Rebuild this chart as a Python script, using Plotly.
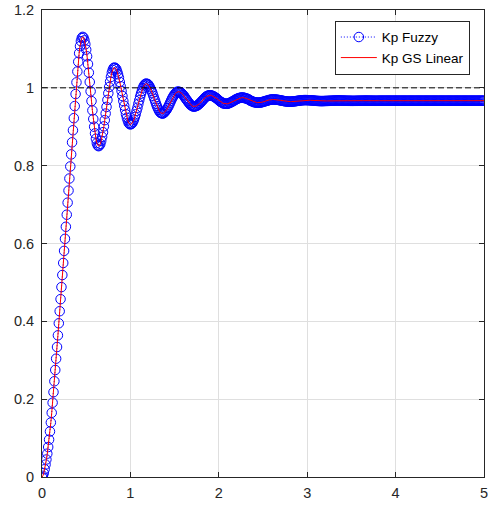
import plotly.graph_objects as go

# ---- data ----
t_step = 0.01
n_samples = 501
time = [round(i * t_step, 2) for i in range(n_samples)]

setpoint = 1.0

kp_fuzzy = [
    0.000, 0.003, 0.010, 0.020, 0.032, 0.045, 0.060, 0.077, 0.096, 0.117,
    0.140, 0.165, 0.191, 0.218, 0.246, 0.275, 0.304, 0.334, 0.364, 0.395,
    0.426, 0.457, 0.488, 0.519, 0.550, 0.581, 0.612, 0.643, 0.674, 0.705,
    0.736, 0.767, 0.798, 0.829, 0.860, 0.891, 0.922, 0.953, 0.984, 1.014,
    1.042, 1.067, 1.089, 1.107, 1.120, 1.128, 1.131, 1.129, 1.122, 1.112,
    1.098, 1.081, 1.061, 1.039, 1.015, 0.991, 0.966, 0.942, 0.920, 0.900,
    0.883, 0.869, 0.858, 0.852, 0.850, 0.852, 0.856, 0.864, 0.874, 0.886,
    0.901, 0.917, 0.934, 0.951, 0.969, 0.986, 1.002, 1.016, 1.028, 1.039,
    1.046, 1.051, 1.052, 1.051, 1.048, 1.042, 1.035, 1.026, 1.015, 1.004,
    0.992, 0.979, 0.966, 0.954, 0.943, 0.932, 0.923, 0.916, 0.910, 0.907,
    0.906, 0.907, 0.909, 0.913, 0.918, 0.925, 0.932, 0.941, 0.949, 0.959,
    0.968, 0.977, 0.985, 0.992, 0.999, 1.004, 1.008, 1.010, 1.011, 1.010,
    1.009, 1.006, 1.002, 0.997, 0.992, 0.986, 0.979, 0.972, 0.966, 0.959,
    0.953, 0.948, 0.943, 0.939, 0.936, 0.935, 0.934, 0.934, 0.936, 0.938,
    0.941, 0.944, 0.948, 0.952, 0.957, 0.962, 0.967, 0.972, 0.976, 0.980,
    0.983, 0.986, 0.988, 0.990, 0.990, 0.990, 0.989, 0.988, 0.986, 0.983,
    0.981, 0.978, 0.974, 0.971, 0.968, 0.965, 0.962, 0.959, 0.956, 0.955,
    0.953, 0.952, 0.952, 0.952, 0.953, 0.954, 0.955, 0.957, 0.959, 0.961,
    0.964, 0.966, 0.969, 0.971, 0.974, 0.976, 0.978, 0.979, 0.980, 0.981,
    0.981, 0.981, 0.980, 0.979, 0.978, 0.977, 0.975, 0.974, 0.972, 0.970,
    0.968, 0.966, 0.964, 0.963, 0.962, 0.960, 0.960, 0.959, 0.959, 0.959,
    0.959, 0.960, 0.961, 0.962, 0.963, 0.964, 0.966, 0.967, 0.968, 0.970,
    0.971, 0.972, 0.973, 0.974, 0.974, 0.975, 0.975, 0.975, 0.975, 0.974,
    0.973, 0.973, 0.972, 0.971, 0.970, 0.968, 0.967, 0.966, 0.965, 0.964,
    0.963, 0.963, 0.962, 0.962, 0.962, 0.962, 0.962, 0.962, 0.963, 0.963,
    0.964, 0.965, 0.965, 0.966, 0.967, 0.967, 0.968, 0.969, 0.969, 0.970,
    0.970, 0.970, 0.970, 0.9700, 0.9698, 0.9696, 0.9694, 0.9690, 0.9686, 0.9682,
    0.9677, 0.9673, 0.9668, 0.9663, 0.9659, 0.9655, 0.9651, 0.9649, 0.9647, 0.9645,
    0.9645, 0.9645, 0.9646, 0.9648, 0.9650, 0.9652, 0.9655, 0.9658, 0.9662, 0.9665,
    0.9668, 0.9672, 0.9675, 0.9678, 0.9680, 0.9682, 0.9684, 0.9685, 0.9685, 0.9685,
    0.9684, 0.9683, 0.9682, 0.9681, 0.9679, 0.9677, 0.9675, 0.9673, 0.9670, 0.9668,
    0.9666, 0.9664, 0.9663, 0.9662, 0.9661, 0.9660, 0.9660, 0.9660, 0.9660, 0.9661,
    0.9662, 0.9663, 0.9663, 0.9664, 0.9665, 0.9666, 0.9667, 0.9668, 0.9669, 0.9670,
    0.9671, 0.9672, 0.9673, 0.9674, 0.9675, 0.9675, 0.9675, 0.9674, 0.9674, 0.9673,
    0.9672, 0.9671, 0.9671, 0.9670, 0.9669, 0.9668, 0.9668, 0.9667, 0.9667, 0.9666,
    0.9666, 0.9665, 0.9665, 0.9665, 0.9666, 0.9666, 0.9667, 0.9667, 0.9668, 0.9668,
    0.9669, 0.9669, 0.9670, 0.9670, 0.9670, 0.9671, 0.9671, 0.9671, 0.9671, 0.9671,
    0.9670, 0.9670, 0.9670, 0.9669, 0.9669, 0.9668, 0.9668, 0.9668, 0.9668, 0.9668,
    0.9669, 0.9669, 0.9669, 0.9669, 0.9670, 0.9670, 0.9670, 0.9670, 0.9670, 0.9670,
    0.9670, 0.9670, 0.9670, 0.9670, 0.9670, 0.9670, 0.9670, 0.9670, 0.9670, 0.9670,
    0.9670, 0.9670, 0.9670, 0.9670, 0.9670, 0.9670, 0.9670, 0.9670, 0.9670, 0.9670,
    0.9670, 0.9670, 0.9670, 0.9670, 0.9670, 0.9670, 0.9670, 0.9670, 0.9670, 0.9670,
    0.9670, 0.9670, 0.9670, 0.9670, 0.9670, 0.9670, 0.9670, 0.9670, 0.9670, 0.9670,
    0.9670, 0.9670, 0.9670, 0.9670, 0.9670, 0.9670, 0.9670, 0.9670, 0.9670, 0.9670,
    0.9670, 0.9670, 0.9670, 0.9670, 0.9670, 0.9670, 0.9670, 0.9670, 0.9670, 0.9670,
    0.9670, 0.9670, 0.9670, 0.9670, 0.9670, 0.9670, 0.9670, 0.9670, 0.9670, 0.9670,
    0.9670, 0.9670, 0.9670, 0.9670, 0.9670, 0.9670, 0.9670, 0.9670, 0.9670, 0.9670,
    0.9670, 0.9670, 0.9670, 0.9670, 0.9670, 0.9670, 0.9670, 0.9670, 0.9670, 0.9670,
    0.9670, 0.9670, 0.9670, 0.9670, 0.9670, 0.9670, 0.9670, 0.9670, 0.9670, 0.9670,
    0.9670, 0.9670, 0.9670, 0.9670, 0.9670, 0.9670, 0.9670, 0.9670, 0.9670, 0.9670,
    0.9670,
]

# the red curve coincides with the blue markers to within a pixel
kp_gs_linear = list(kp_fuzzy)

series_names = ["Kp Fuzzy", "Kp GS Linear"]
x_ticks = [0, 1, 2, 3, 4, 5]
y_ticks = [0, 0.2, 0.4, 0.6, 0.8, 1.0, 1.2]
y_tick_labels = ["0", "0.2", "0.4", "0.6", "0.8", "1", "1.2"]

# ---- figure ----
AX = "#262626"
GRID = "#dfdfdf"
FONT = "Liberation Sans, Arial, Helvetica, sans-serif"

fig = go.Figure()

fig.add_trace(go.Scatter(
    x=time, y=kp_fuzzy, name=series_names[0],
    mode="lines+markers",
    line=dict(color="#0000ff", width=1, dash="1px,2px"),
    marker=dict(symbol="circle-open", size=9.5, color="#0000ff",
                line=dict(width=1, color="#0000ff")),
))

fig.add_trace(go.Scatter(
    x=time, y=kp_gs_linear, name=series_names[1],
    mode="lines",
    line=dict(color="#ff0000", width=1),
))

fig.add_trace(go.Scatter(
    x=[time[0], time[-1]], y=[setpoint, setpoint],
    mode="lines", showlegend=False, hoverinfo="skip",
    line=dict(color="#000000", width=1, dash="6px,3px"),
))

fig.update_layout(
    width=490, height=508,
    margin=dict(l=42, r=2, t=8, b=31),
    paper_bgcolor="white", plot_bgcolor="white",
    font=dict(family=FONT, size=14, color=AX),
    showlegend=True,
    legend=dict(
        x=0.968, xanchor="right", y=0.977, yanchor="top",
        bgcolor="white", bordercolor=AX, borderwidth=1,
        font=dict(family=FONT, size=13.5, color="#000000"),
        tracegroupgap=0, itemwidth=36,
    ),
    xaxis=dict(
        range=[0, 5], tickvals=x_ticks, ticktext=[str(v) for v in x_ticks],
        showgrid=True, gridcolor=GRID, gridwidth=1, zeroline=False,
        showline=True, linecolor=AX, linewidth=1, mirror="ticks",
        ticks="inside", ticklen=5, tickcolor=AX, tickwidth=1,
        tickfont=dict(family=FONT, size=14.5, color=AX),
        ticklabeloverflow="allow", ticklabelstandoff=3,
    ),
    yaxis=dict(
        range=[0, 1.2], tickvals=y_ticks, ticktext=y_tick_labels,
        showgrid=True, gridcolor=GRID, gridwidth=1, zeroline=False,
        showline=True, linecolor=AX, linewidth=1, mirror="ticks",
        ticks="inside", ticklen=5, tickcolor=AX, tickwidth=1,
        tickfont=dict(family=FONT, size=14.5, color=AX),
        ticklabelstandoff=4,
    ),
)

fig.write_html("out.html")
